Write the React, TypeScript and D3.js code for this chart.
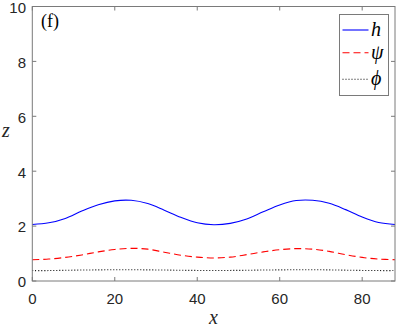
import React from "react";
import * as d3 from "d3";

const xs = [0, 4, 8, 12, 16, 20, 24, 28, 32, 36, 40, 44, 48, 52, 56, 60, 64, 68, 72, 76, 80, 84, 87.96];
const hVals = [2.06, 2.12, 2.28, 2.55, 2.78, 2.92, 2.94, 2.82, 2.58, 2.32, 2.12, 2.05, 2.1, 2.26, 2.52, 2.77, 2.93, 2.94, 2.83, 2.6, 2.33, 2.13, 2.06];
const psiVals = [0.775, 0.8, 0.86, 0.95, 1.06, 1.15, 1.19, 1.16, 1.05, 0.94, 0.87, 0.84, 0.87, 0.96, 1.06, 1.14, 1.18, 1.16, 1.08, 0.96, 0.86, 0.8, 0.775];
const phiVals = [0.38, 0.38, 0.39, 0.4, 0.405, 0.41, 0.41, 0.405, 0.4, 0.39, 0.385, 0.38, 0.385, 0.39, 0.4, 0.405, 0.41, 0.41, 0.405, 0.395, 0.385, 0.38, 0.38];
const xTicks = [0, 20, 40, 60, 80];
const yTicks = [0, 2, 4, 6, 8, 10];
const legendLabels = ["h", "ψ", "ϕ"];

const W = 398, H = 327;
const L = 32.3, R = 395, T = 6.5, B = 281;

export default function App() {
  const x = d3.scaleLinear().domain([0, 87.96]).range([L, R]);
  const y = d3.scaleLinear().domain([0, 10]).range([B, T]);
  const line = (vals: number[]) =>
    d3.line<number>().x((_, i) => x(xs[i])).y((d) => y(d)).curve(d3.curveCatmullRom.alpha(0.5))(vals) || "";
  const axisColor = "#7a7a7a";
  const textColor = "#262626";
  const sans = "Liberation Sans, Arial, sans-serif";
  const serif = "Liberation Serif, Times New Roman, serif";
  const series = [
    { vals: hVals, color: "#0000ff", dash: "none" },
    { vals: psiVals, color: "#ff0000", dash: "7,4" },
    { vals: phiVals, color: "#000000", dash: "1,2" },
  ];
  const legY = [30, 52.7, 79.3];
  return (
    <svg width={W} height={H} style={{ position: "absolute", left: 0, top: 0, background: "#fff" }}>
      <rect x={0} y={0} width={W} height={H} fill="#fff" />
      {series.map((s, i) => (
        <path key={i} d={line(s.vals)} fill="none" stroke={s.color} strokeWidth={1.1} strokeDasharray={s.dash} />
      ))}
      <rect x={L} y={T} width={R - L} height={B - T} fill="none" stroke={axisColor} strokeWidth={1} />
      {xTicks.map((t) => (
        <g key={"x" + t}>
          <line x1={x(t)} x2={x(t)} y1={B} y2={B - 4} stroke={axisColor} />
          <line x1={x(t)} x2={x(t)} y1={T} y2={T + 4} stroke={axisColor} />
          <text x={x(t)} y={304} textAnchor="middle" fontFamily={sans} fontSize={15} fill={textColor}>
            {t}
          </text>
        </g>
      ))}
      {yTicks.map((t) => (
        <g key={"y" + t}>
          <line x1={L} x2={L + 4} y1={y(t)} y2={y(t)} stroke={axisColor} />
          <line x1={R} x2={R - 4} y1={y(t)} y2={y(t)} stroke={axisColor} />
          <text x={26} y={y(t) + 6.3} textAnchor="end" fontFamily={sans} fontSize={15} fill={textColor}>
            {t}
          </text>
        </g>
      ))}
      <text x={41} y={27} fontFamily={serif} fontSize={18} fill="#000">(f)</text>
      <text x={2} y={137} fontFamily={serif} fontStyle="italic" fontSize={20} fill={textColor}>z</text>
      <text x={213.5} y={324} textAnchor="middle" fontFamily={serif} fontStyle="italic" fontSize={20} fill={textColor}>x</text>
      <rect x={339.5} y={14.5} width={49} height={81} fill="#fff" stroke={axisColor} />
      {series.map((s, i) => (
        <g key={"l" + i}>
          <line x1={342.5} x2={368.5} y1={legY[i]} y2={legY[i]} stroke={s.color} strokeWidth={1.1} strokeDasharray={s.dash} />
          <text x={371} y={legY[i] + 6} fontFamily={serif} fontStyle="italic" fontSize={20} fill="#000">
            {legendLabels[i]}
          </text>
        </g>
      ))}
    </svg>
  );
}
